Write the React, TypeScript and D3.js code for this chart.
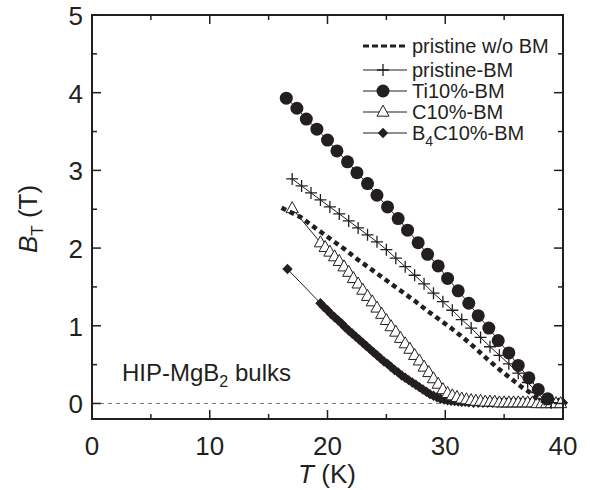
import React from "react";
import * as d3 from "d3";

// ---------- data ----------
const xTicks = [0, 10, 20, 30, 40];
const xMinor = [5, 15, 25, 35];
const yTicks = [0, 1, 2, 3, 4, 5];
const yMinor = [0.5, 1.5, 2.5, 3.5, 4.5];

const legendLabels = ["pristine w/o BM", "pristine-BM", "Ti10%-BM", "C10%-BM", "B4C10%-BM"];

// pristine w/o BM (dashed)
const pwT = [16.1, 17.7, 18.5, 19.5, 20.5, 21.5, 22.5, 23.5, 24.5, 25.5, 26.5, 27.5, 28.5, 29.5, 30.5, 31.5, 32.5, 33.5, 34.5, 35.5, 36.5, 37.2, 37.8, 38.3, 38.8];
const pwB = [2.52, 2.40, 2.31, 2.20, 2.09, 1.98, 1.86, 1.75, 1.64, 1.53, 1.42, 1.31, 1.19, 1.08, 0.97, 0.85, 0.72, 0.58, 0.45, 0.33, 0.21, 0.14, 0.07, 0.03, 0.01];

// pristine-BM (crosses)
const pbT = [17.0, 17.8, 18.6, 19.4, 20.2, 21.0, 21.8, 22.6, 23.4, 24.2, 25.0, 25.8, 26.6, 27.4, 28.2, 29.0, 29.8, 30.6, 31.4, 32.2, 33.0, 33.8, 34.6, 35.4, 36.2, 37.0, 37.8, 38.4, 39.0];
const pbB = [2.89, 2.80, 2.71, 2.62, 2.53, 2.44, 2.35, 2.26, 2.17, 2.08, 1.98, 1.87, 1.76, 1.65, 1.54, 1.42, 1.31, 1.20, 1.08, 0.97, 0.85, 0.73, 0.62, 0.51, 0.39, 0.27, 0.14, 0.05, 0.01];

// Ti10%-BM (filled circles)
const tiT = [16.5, 17.4, 18.2, 19.1, 20.0, 20.8, 21.7, 22.5, 23.4, 24.2, 25.1, 26.0, 26.8, 27.7, 28.5, 29.4, 30.2, 31.1, 32.0, 32.8, 33.7, 34.5, 35.4, 36.2, 37.1, 37.9, 38.7];
const tiB = [3.93, 3.80, 3.66, 3.53, 3.39, 3.25, 3.11, 2.97, 2.83, 2.68, 2.53, 2.38, 2.23, 2.07, 1.92, 1.77, 1.61, 1.45, 1.29, 1.13, 0.97, 0.81, 0.65, 0.49, 0.33, 0.18, 0.06];

// C10%-BM (open triangles)
const cT = [17.0, 19.4, 19.8, 20.2, 20.6, 21.0, 21.4, 21.8, 22.2, 22.6, 23.0, 23.4, 23.8, 24.2, 24.6, 25.0, 25.4, 25.8, 26.2, 26.6, 27.0, 27.4, 27.8, 28.2, 28.6, 29.0, 29.4, 29.8, 30.2, 30.6, 31.0, 31.4, 31.8, 32.2, 32.6, 33.0, 33.4, 33.8, 34.2, 34.6, 35.0, 35.4, 35.8, 36.2, 36.6, 37.0, 37.4, 37.8, 38.2, 38.6, 39.0, 39.4, 39.8];
const cB = [2.51, 2.07, 2.01, 1.95, 1.89, 1.83, 1.76, 1.69, 1.61, 1.54, 1.46, 1.38, 1.31, 1.23, 1.15, 1.07, 0.99, 0.92, 0.84, 0.77, 0.70, 0.62, 0.55, 0.47, 0.40, 0.32, 0.25, 0.18, 0.13, 0.10, 0.08, 0.06, 0.05, 0.04, 0.03, 0.03, 0.02, 0.02, 0.02, 0.01, 0.01, 0.01, 0.01, 0.01, 0.01, 0.01, 0.01, 0.0, 0.0, 0.0, 0.0, 0.0, 0.0];

// B4C10%-BM (filled diamonds)
const bcT = [16.6, 19.4, 19.7, 20.0, 20.3, 20.6, 20.9, 21.2, 21.5, 21.8, 22.1, 22.4, 22.7, 23.0, 23.3, 23.6, 23.9, 24.2, 24.5, 24.8, 25.1, 25.4, 25.7, 26.0, 26.3, 26.6, 26.9, 27.2, 27.5, 27.8, 28.1, 28.4, 28.7, 29.0, 29.3, 29.6, 29.9, 30.2, 30.5, 30.8, 31.1, 31.4, 31.7, 32.0, 32.4, 32.8, 33.2, 33.6, 34.0, 34.4, 34.8, 35.2, 35.6, 36.0, 36.4, 36.8, 37.2, 37.6, 38.0, 38.4, 38.8, 39.2, 39.6, 40.0];
const bcB = [1.73, 1.29, 1.24, 1.20, 1.15, 1.11, 1.07, 1.03, 0.98, 0.94, 0.90, 0.86, 0.82, 0.78, 0.74, 0.70, 0.66, 0.62, 0.58, 0.54, 0.51, 0.47, 0.43, 0.40, 0.36, 0.33, 0.30, 0.27, 0.24, 0.21, 0.18, 0.15, 0.12, 0.10, 0.08, 0.06, 0.05, 0.04, 0.035, 0.03, 0.025, 0.02, 0.02, 0.015, 0.01, 0.01, 0.01, 0.01, 0.01, 0.01, 0.01, 0.01, 0.01, 0.01, 0.01, 0.01, 0.01, 0.01, 0.01, 0.01, 0.01, 0.01, 0.01, 0.01];

// ---------- layout ----------
const W = 590, H = 490;
const L = 92, R = 563, T = 15, B = 419;
const INK = "#231f20";
const FONT = "'Liberation Sans', Arial, Helvetica, sans-serif";

const x = d3.scaleLinear().domain([0, 40]).range([L, R]);
const y = d3.scaleLinear().domain([-0.2, 5]).range([B, T]);

const zip = (a: number[], b: number[]) => a.map((v, i) => [v, b[i]] as [number, number]);
const line = d3.line<[number, number]>().x(d => x(d[0])).y(d => y(d[1]));

const crossPath = "M-6,0H6M0,-6V6";
const triPath = (s: number) => `M0,${-s * 0.62}L${s * 0.55},${s * 0.38}L${-s * 0.55},${s * 0.38}Z`;
const diaPath = (s: number) => `M0,${-s}L${s},0L0,${s}L${-s},0Z`;

function Marker({ kind }: { kind: string }) {
  if (kind === "cross") return <path d={crossPath} stroke={INK} strokeWidth={1.3} fill="none" />;
  if (kind === "circle") return <circle r={6.5} fill={INK} />;
  if (kind === "tri") return <path d={triPath(11)} fill="white" stroke={INK} strokeWidth={1} />;
  if (kind === "dia") return <path d={diaPath(5.2)} fill={INK} />;
  return null;
}

export default function App() {
  const pw = zip(pwT, pwB);
  const pb = zip(pbT, pbB);
  const ti = zip(tiT, tiB);
  const c = zip(cT, cB);
  const bc = zip(bcT, bcB);

  const legendRows = [46, 70, 91, 112, 133];
  const legendKinds = ["dash", "cross", "circle", "tri", "dia"];

  return (
    <svg width={W} height={H} style={{ position: "absolute", left: 0, top: 0, background: "white" }} fontFamily={FONT}>
      {/* zero reference line */}
      <line x1={L} x2={R} y1={y(0)} y2={y(0)} stroke="#555" strokeWidth={0.8} strokeDasharray="4,4" />

      {/* B4C10%-BM */}
      <path d={line(bc) || ""} fill="none" stroke={INK} strokeWidth={1} />
      {bc.map((d, i) => (
        <g key={"bc" + i} transform={`translate(${x(d[0])},${y(d[1])})`}><Marker kind="dia" /></g>
      ))}

      {/* C10%-BM */}
      <path d={line(c) || ""} fill="none" stroke={INK} strokeWidth={1} />
      {c.map((d, i) => (
        <g key={"c" + i} transform={`translate(${x(d[0])},${y(d[1])})`}><Marker kind="tri" /></g>
      ))}

      {/* pristine w/o BM */}
      <path d={line(pw) || ""} fill="none" stroke={INK} strokeWidth={4.5} strokeDasharray="5,4" />

      {/* pristine-BM */}
      <path d={line(pb) || ""} fill="none" stroke={INK} strokeWidth={1} />
      {pb.map((d, i) => (
        <g key={"pb" + i} transform={`translate(${x(d[0])},${y(d[1])})`}><Marker kind="cross" /></g>
      ))}

      {/* Ti10%-BM */}
      <path d={line(ti) || ""} fill="none" stroke={INK} strokeWidth={1} />
      {ti.map((d, i) => (
        <g key={"ti" + i} transform={`translate(${x(d[0])},${y(d[1])})`}><Marker kind="circle" /></g>
      ))}

      {/* frame */}
      <rect x={L} y={T} width={R - L} height={B - T} fill="none" stroke={INK} strokeWidth={2} />

      {/* ticks */}
      {xTicks.map(v => (
        <g key={"xt" + v}>
          <line x1={x(v)} x2={x(v)} y1={B} y2={B - 9} stroke={INK} strokeWidth={1.5} />
          <line x1={x(v)} x2={x(v)} y1={T} y2={T + 9} stroke={INK} strokeWidth={1.5} />
          <text x={x(v)} y={455} textAnchor="middle" fontSize={26} fill={INK}>{v}</text>
        </g>
      ))}
      {xMinor.map(v => (
        <g key={"xm" + v}>
          <line x1={x(v)} x2={x(v)} y1={B} y2={B - 5} stroke={INK} strokeWidth={1.5} />
          <line x1={x(v)} x2={x(v)} y1={T} y2={T + 5} stroke={INK} strokeWidth={1.5} />
        </g>
      ))}
      {yTicks.map(v => (
        <g key={"yt" + v}>
          <line x1={L} x2={L + 9} y1={y(v)} y2={y(v)} stroke={INK} strokeWidth={1.5} />
          <line x1={R} x2={R - 9} y1={y(v)} y2={y(v)} stroke={INK} strokeWidth={1.5} />
          <text x={83} y={y(v) + 10} textAnchor="end" fontSize={26} fill={INK}>{v}</text>
        </g>
      ))}
      {yMinor.map(v => (
        <g key={"ym" + v}>
          <line x1={L} x2={L + 5} y1={y(v)} y2={y(v)} stroke={INK} strokeWidth={1.5} />
          <line x1={R} x2={R - 5} y1={y(v)} y2={y(v)} stroke={INK} strokeWidth={1.5} />
        </g>
      ))}

      {/* axis titles */}
      <text x={327} y={483} textAnchor="middle" fontSize={26} fill={INK}>
        <tspan fontStyle="italic">T</tspan> (K)
      </text>
      <text transform="translate(37,219) rotate(-90)" textAnchor="middle" fontSize={26} fill={INK}>
        <tspan fontStyle="italic">B</tspan>
        <tspan fontSize={17} dy={6}>T</tspan>
        <tspan dy={-6}> (T)</tspan>
      </text>

      {/* annotation */}
      <text x={122} y={381} fontSize={24} fill={INK}>
        HIP-MgB<tspan fontSize={16} dy={6}>2</tspan><tspan dy={-6}> bulks</tspan>
      </text>

      {/* legend */}
      {legendKinds.map((k, i) => {
        const cy = legendRows[i];
        return (
          <g key={"lg" + i}>
            {k === "dash" ? (
              <line x1={363} x2={407} y1={cy} y2={cy} stroke={INK} strokeWidth={3} strokeDasharray="6,3" />
            ) : (
              <line x1={363} x2={407} y1={cy} y2={cy} stroke={INK} strokeWidth={1} />
            )}
            {k !== "dash" && (
              <g transform={`translate(383,${cy})`}><Marker kind={k} /></g>
            )}
            {i === 4 ? (
              <text x={412} y={cy + 7} fontSize={20} fill={INK}>
                B<tspan fontSize={14} dy={6}>4</tspan><tspan dy={-6}>C10%-BM</tspan>
              </text>
            ) : (
              <text x={412} y={cy + 7} fontSize={20} fill={INK}>{legendLabels[i]}</text>
            )}
          </g>
        );
      })}
    </svg>
  );
}
